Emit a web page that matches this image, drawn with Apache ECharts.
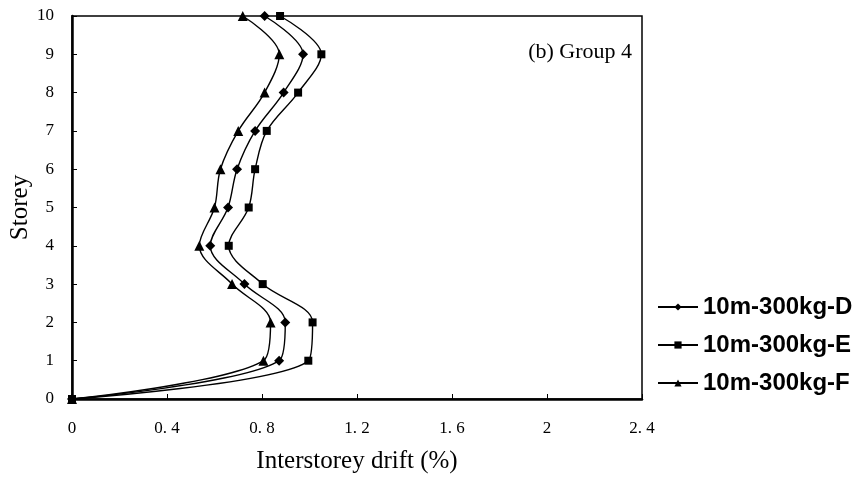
<!DOCTYPE html>
<html>
<head>
<meta charset="utf-8">
<script src="https://cdn.jsdelivr.net/npm/echarts@6/dist/echarts.min.js"></script>
<style>html,body{margin:0;padding:0;background:#fff}#c{width:856px;height:488px}</style>
</head>
<body>
<div id="c"></div>
<script>
const storeys = [0, 1, 2, 3, 4, 5, 6, 7, 8, 9, 10];
const driftD = [0, 0.872, 0.898, 0.726, 0.582, 0.657, 0.695, 0.771, 0.891, 0.973, 0.811];
const driftE = [0, 0.995, 1.013, 0.803, 0.660, 0.744, 0.771, 0.820, 0.952, 1.050, 0.876];
const driftF = [0, 0.806, 0.836, 0.674, 0.536, 0.600, 0.625, 0.700, 0.811, 0.873, 0.719];
const seriesNames = ['10m-300kg-D', '10m-300kg-E', '10m-300kg-F'];
const xTicks = [0, 0.4, 0.8, 1.2, 1.6, 2, 2.4];
const yTicks = [0, 1, 2, 3, 4, 5, 6, 7, 8, 9, 10];
const panelLabel = '(b) Group 4';
const xTitle = 'Interstorey drift (%)';
const yTitle = 'Storey';

const pairs = arr => arr.map((v, i) => [v, storeys[i]]);
const symbols = ['diamond', 'rect', 'triangle'];
const symSizes = [10, 8, 10];
const drifts = [driftD, driftE, driftF];

const chart = echarts.init(document.getElementById('c'), null, {renderer: 'canvas'});
const serif = '"Liberation Serif", "DejaVu Serif", serif';
chart.setOption({
  animation: false,
  backgroundColor: '#fff',
  grid: {left: 72, right: 214, top: 16, bottom: 89, containLabel: false, outerBoundsMode: 'none',
    show: true, borderColor: '#000', borderWidth: 1.5, backgroundColor: 'transparent'},
  legend: {
    orient: 'vertical', left: 652, top: 290, itemGap: 14, itemWidth: 40, itemHeight: 9,
    data: seriesNames,
    textStyle: {fontFamily: '"Liberation Sans", Arial, sans-serif', fontWeight: 'bold', fontSize: 24, color: '#000'}
  },
  xAxis: {
    type: 'value', min: 0, max: 2.4, interval: 0.4,
    name: xTitle, nameLocation: 'middle', nameGap: 50, nameMoveOverlap: false,
    nameTextStyle: {fontFamily: serif, fontSize: 25, color: '#000'},
    axisLine: {show: true, lineStyle: {color: '#000', width: 2.5}},
    axisTick: {show: true, inside: true, length: 5, lineStyle: {color: '#000', width: 1}},
    axisLabel: {margin: 21, fontFamily: serif, fontSize: 17, color: '#000',
      formatter: v => {const t = xTicks.find(k => Math.abs(k - v) < 1e-6); return t === undefined ? '' : (Number.isInteger(t) ? String(t) : t.toFixed(1).replace('.', '. '));}},
    splitLine: {show: false}
  },
  yAxis: {
    type: 'value', min: 0, max: 10, interval: 1,
    name: yTitle, nameLocation: 'middle', nameGap: 39, nameRotate: 90, nameMoveOverlap: false,
    nameTextStyle: {fontFamily: serif, fontSize: 25, color: '#000'},
    axisLine: {show: true, lineStyle: {color: '#000', width: 2.5}},
    axisTick: {show: true, inside: true, length: 5, lineStyle: {color: '#000', width: 1}},
    axisLabel: {margin: 18, fontFamily: serif, fontSize: 17, color: '#000',
      formatter: v => yTicks.includes(v) ? String(v) : ''},
    splitLine: {show: false}
  },
  graphic: [{
    type: 'text', x: 632, y: 52,
    style: {text: panelLabel, textAlign: 'right', textVerticalAlign: 'middle', font: '22px "Liberation Serif", serif', fill: '#000'}
  }],
  series: seriesNames.map((n, i) => ({
    name: n, type: 'line', data: pairs(drifts[i]), smooth: 0.35,
    symbol: symbols[i], symbolSize: symSizes[i], showSymbol: true,
    lineStyle: {color: '#000', width: 1.4}, itemStyle: {color: '#000'},
    z: 3 - i, clip: false
  }))
});
</script>
</body>
</html>
